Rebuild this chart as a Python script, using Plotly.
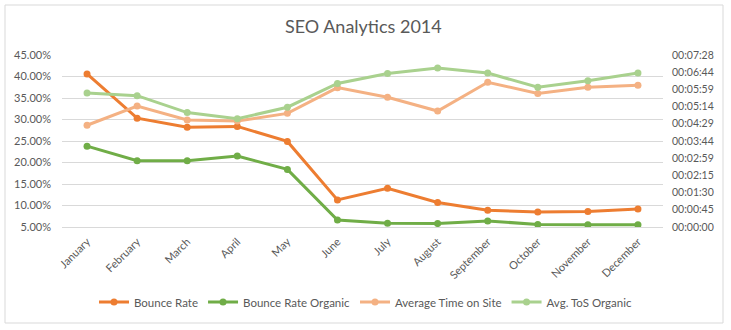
import plotly.graph_objects as go

months = ["January", "February", "March", "April", "May", "June", "July",
          "August", "September", "October", "November", "December"]

bounce_rate = [40.6, 30.3, 28.2, 28.4, 24.9, 11.3, 14.0, 10.7, 8.9, 8.5, 8.6, 9.2]
bounce_rate_organic = [23.8, 20.4, 20.4, 21.5, 18.4, 6.6, 5.9, 5.8, 6.4, 5.6, 5.5, 5.5]
# seconds
avg_time_on_site = [265, 315, 279, 276, 296, 363, 338, 302, 377, 348, 364, 369]
avg_tos_organic = [349, 342, 298, 282, 312, 374, 400, 414, 401, 364, 381, 401]

left_ticks = [5, 10, 15, 20, 25, 30, 35, 40, 45]
left_labels = ["5.00%", "10.00%", "15.00%", "20.00%", "25.00%", "30.00%",
               "35.00%", "40.00%", "45.00%"]
right_ticks = [0, 44.8, 89.6, 134.4, 179.2, 224, 268.8, 313.6, 358.4, 403.2, 448]
right_labels = ["00:00:00", "00:00:45", "00:01:30", "00:02:15", "00:02:59",
                "00:03:44", "00:04:29", "00:05:14", "00:05:59", "00:06:44", "00:07:28"]

FONT = "Lato, 'Open Sans', sans-serif"
GREY = "#595959"

fig = go.Figure()

def add(name, y, color, axis):
    fig.add_trace(go.Scatter(
        x=months, y=y, name=name, mode="lines+markers",
        line=dict(color=color, width=3),
        marker=dict(color=color, size=7, symbol="circle"),
        yaxis=axis,
    ))

add("Bounce Rate", bounce_rate, "#ED7D31", "y")
add("Bounce Rate Organic", bounce_rate_organic, "#70AD47", "y")
add("Average Time on Site", avg_time_on_site, "#F4B183", "y2")
add("Avg. ToS Organic", avg_tos_organic, "#A9D18E", "y2")

L, R, T, B = 62, 68, 55, 103
W, H = 731, 330
pw, ph = W - L - R, H - T - B

def px_x(x):
    return (x - L) / pw

def px_y(y):
    return (H - B - y) / ph

fig.update_layout(
    width=W, height=H,
    margin=dict(l=L, r=R, t=T, b=B, autoexpand=False),
    paper_bgcolor="white", plot_bgcolor="white",
    font=dict(family=FONT, size=11, color=GREY),
    title=dict(text="SEO Analytics 2014", x=0.497, xref="container",
               y=1 - 27 / H, yref="container", xanchor="center", yanchor="middle",
               font=dict(family=FONT, size=18, color=GREY)),
    xaxis=dict(type="category", range=[-0.5, 11.5], tickangle=-45,
               showgrid=False, showline=True, linecolor="#d9d9d9", linewidth=1,
               ticks="", ticklabelstandoff=3, tickfont=dict(size=11, color=GREY),
               fixedrange=True, automargin=False),
    yaxis=dict(range=[5, 45], tickvals=left_ticks, ticktext=left_labels,
               showgrid=True, gridcolor="#d9d9d9", gridwidth=1, zeroline=False,
               ticks="", ticklabelstandoff=10, tickfont=dict(size=11, color=GREY),
               automargin=False),
    yaxis2=dict(range=[0, 448], tickvals=right_ticks, ticktext=right_labels,
                overlaying="y", side="right", showgrid=False, zeroline=False,
                ticks="", ticklabelstandoff=8, tickfont=dict(size=10.5, color=GREY),
                automargin=False),
    legend=dict(orientation="h", xref="container", yref="container",
                x=0.5, xanchor="center", y=1 - 302 / H, yanchor="middle",
                font=dict(family=FONT, size=11.5, color=GREY),
                itemwidth=30, tracegroupgap=0),
    showlegend=True,
    shapes=[dict(type="rect", xref="paper", yref="paper",
                 x0=px_x(5), x1=px_x(723), y0=px_y(323), y1=px_y(5),
                 line=dict(color="#d9d9d9", width=1), layer="below")],
)

fig.write_html("out.html")
